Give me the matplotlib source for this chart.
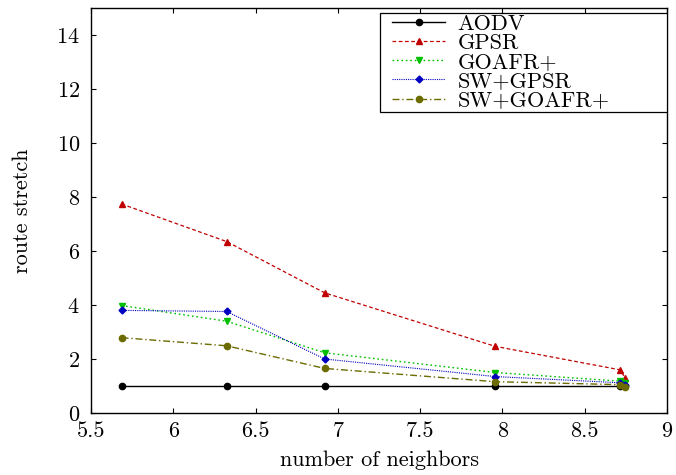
import matplotlib
matplotlib.use("Agg")
import matplotlib.pyplot as plt
from matplotlib.patches import Rectangle

plt.rcParams['font.family'] = 'serif'
plt.rcParams['font.serif'] = ['cmr10', 'DejaVu Serif']
plt.rcParams['axes.formatter.use_mathtext'] = True
plt.rcParams['mathtext.fontset'] = 'cm'

neighbors = [5.686, 6.324, 6.92, 7.955, 8.714, 8.746]
aodv = [1.0, 1.0, 1.0, 1.0, 1.0, 1.0]
gpsr = [7.74, 6.35, 4.45, 2.47, 1.60, 1.30]
goafr = [3.98, 3.40, 2.23, 1.50, 1.18, 1.10]
sw_gpsr = [3.80, 3.76, 2.00, 1.35, 1.12, 1.05]
sw_goafr = [2.79, 2.49, 1.65, 1.16, 1.05, 0.97]

labels = ['AODV', 'GPSR', 'GOAFR+', 'SW+GPSR', 'SW+GOAFR+']
x_ticks = [5.5, 6, 6.5, 7, 7.5, 8, 8.5, 9]
x_ticklabels = ['5.5', '6', '6.5', '7', '7.5', '8', '8.5', '9']
y_ticks = [0, 2, 4, 6, 8, 10, 12, 14]

W, H = 676, 475
fig = plt.figure(figsize=(W/100, H/100), dpi=100)
ax = fig.add_axes([91/W, 62/H, (667-91)/W, (413-8)/H])

ax.plot(neighbors, aodv, color='black', linestyle='-', marker='o', markersize=4.5, linewidth=1.0, label=labels[0])
ax.plot(neighbors, gpsr, color='#c00000', linestyle=(0, (3, 2)), marker='^', markersize=4.5, linewidth=0.9, label=labels[1])
ax.plot(neighbors, goafr, color='#00c000', linestyle=(0, (1.2, 2)), marker='v', markersize=4.5, linewidth=1.0, label=labels[2])
ax.plot(neighbors, sw_gpsr, color='#0000c0', linestyle=(0, (1, 1)), marker='D', markersize=3.5, linewidth=0.8, label=labels[3])
ax.plot(neighbors, sw_goafr, color='#6b6b00', linestyle=(0, (5, 2, 1, 2)), marker='o', markersize=4.5, linewidth=1.0, label=labels[4])

ax.set_xlim(5.5, 9)
ax.set_ylim(0, 15)
ax.set_xticks(x_ticks)
ax.set_xticklabels(x_ticklabels)
ax.set_yticks(y_ticks)
ax.tick_params(direction='in', top=True, right=True, length=3.6, labelsize=16, width=0.8)
ax.tick_params(axis='y', pad=8)
ax.tick_params(axis='x', pad=6)
for s in ax.spines.values():
    s.set_linewidth(1.0)

ax.set_xlabel('number of neighbors', fontsize=16, labelpad=7)
ax.set_ylabel('route stretch', fontsize=16)
ax.yaxis.set_label_coords((32-91)/576, 0.5)

# legend box (gnuplot-like key)
x0 = (380-91)/576
y0 = (413-112)/405
y1 = (413-13)/405
ax.add_patch(Rectangle((x0, y0), 1.0-x0, y1-y0, transform=ax.transAxes,
                       facecolor='white', edgecolor='black', linewidth=0.9, zorder=4))
leg = ax.legend(loc='upper left', bbox_to_anchor=((392-91)/576, (413-14)/405),
                fontsize=16, frameon=False, borderaxespad=0, borderpad=0,
                handlelength=2.4, handletextpad=0.55, labelspacing=-0.015)
leg.set_zorder(5)

fig.savefig('out.png', dpi=100)
